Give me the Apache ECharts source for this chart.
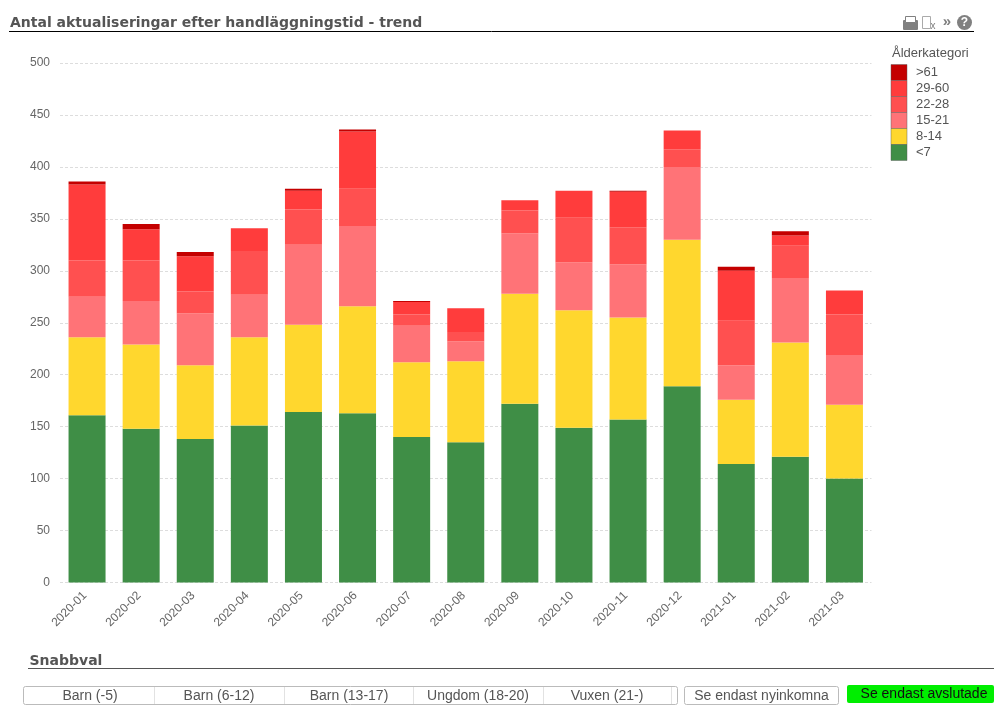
<!DOCTYPE html>
<html>
<head>
<meta charset="utf-8">
<style>html,body{margin:0;padding:0;background:#fff}#c{width:994px;height:711px}</style>
<script src="https://cdn.jsdelivr.net/npm/echarts@6/dist/echarts.min.js"></script>
</head>
<body>
<div id="c"></div>
<script>
const categories = ['2020-01','2020-02','2020-03','2020-04','2020-05','2020-06','2020-07','2020-08','2020-09','2020-10','2020-11','2020-12','2021-01','2021-02','2021-03'];
const under7   = [161,148,138,151,164,163,140,135,172,149,157,189,114,121,100];
const d8to14   = [75,81,71,85,84,103,72,78,106,113,98,141,62,110,71];
const d15to21  = [39,42,50,41,77,77,35,19,58,46,51,70,33,62,48];
const d22to28  = [35,39,21,42,34,36,11,9,22,43,36,17,43,31,39];
const d29to60  = [73,30,34,22,18,55,12,23,10,26,34,18,48,10,23];
const over61   = [3,5,4,null,2,2,1,null,null,null,1,null,4,4,null];
const yTicks = {min:0,max:500,interval:50};
const legendTitle = 'Ålderkategori';
const chartTitle = 'Antal aktualiseringar efter handläggningstid - trend';
const quickTitle = 'Snabbval';
const groupButtons = ['Barn (-5)','Barn (6-12)','Barn (13-17)','Ungdom (18-20)','Vuxen (21-)'];
const newButton = 'Se endast nyinkomna';
const doneButton = 'Se endast avslutade';

const seriesDefs = [
  ['<7', under7, '#3F8E46'],
  ['8-14', d8to14, '#FFD72E'],
  ['15-21', d15to21, '#FF7377'],
  ['22-28', d22to28, '#FF5050'],
  ['29-60', d29to60, '#FF3C3C'],
  ['>61', over61, '#C40000']
];
const FONT = '"Liberation Sans", Arial, sans-serif';
const TITLE_FONT = '"DejaVu Sans", Verdana, sans-serif';

function line(x1,y1,x2,y2,stroke,w){return {type:'line',silent:true,shape:{x1,y1,x2,y2},style:{stroke,lineWidth:w||1}};}
function txt(x,y,text,o){return {type:'text',silent:true,x,y,style:Object.assign({text,font:'14px '+FONT,fill:'#555',align:'center',verticalAlign:'middle'},o||{})};}

const dividers=[154.5,284.5,413.5,543.5,671.5];
const labelsX=[90,219,349,478,607];
const graphics=[
  txt(10,23,chartTitle,{font:'bold 14px '+TITLE_FONT,fill:'#555',align:'left'}),
  line(9,31.5,974,31.5,'#000'),
  txt(892,53,legendTitle,{font:'13px '+FONT,fill:'#555',align:'left'}),
  // toolbar icons
  {type:'rect',silent:true,shape:{x:903,y:20,width:15,height:10,r:1},style:{fill:'#808080'}},
  {type:'rect',silent:true,shape:{x:905.5,y:16.5,width:10,height:6},style:{fill:'#fff',stroke:'#808080'}},
  {type:'rect',silent:true,shape:{x:922.5,y:16.5,width:8,height:12},style:{fill:'#fff',stroke:'#aaa'}},
  txt(933,26,'x',{font:'10px '+FONT,fill:'#808080'}),
  txt(947,22,'»',{font:'bold 15px '+FONT,fill:'#808080'}),
  {type:'circle',silent:true,shape:{cx:964.5,cy:22.5,r:7.5},style:{fill:'#808080'}},
  txt(964.5,23,'?',{font:'bold 12px '+FONT,fill:'#fff'}),
  // quick select
  txt(29.5,661,quickTitle,{font:'bold 14px '+TITLE_FONT,fill:'#555',align:'left'}),
  line(28,668.5,994,668.5,'#555'),
  {type:'rect',silent:true,shape:{x:23.5,y:686.5,width:654,height:18,r:2},style:{fill:'#fff',stroke:'#bbb'}},
  ...dividers.map(x=>line(x,687,x,704,'#e2e2e2')),
  ...groupButtons.map((t,i)=>txt(labelsX[i],696,t)),
  {type:'rect',silent:true,shape:{x:684.5,y:686.5,width:154,height:18,r:2},style:{fill:'#fff',stroke:'#bbb'}},
  txt(761.5,696,newButton),
  {type:'rect',silent:true,shape:{x:847,y:685,width:147,height:18,r:2},style:{fill:'#00EE00'}},
  txt(924,694,doneButton,{fill:'#111'})
];

const chart = echarts.init(document.getElementById('c'),null,{renderer:'canvas'});
chart.setOption({
  animation:false,
  backgroundColor:'#fff',
  grid:{left:60,right:122.5,top:63,bottom:128.5,containLabel:false},
  legend:{
    orient:'vertical',left:890.5,top:64,itemWidth:16,itemHeight:16,itemGap:-1,
    icon:'rect',
    selectedMode:false,
    data:seriesDefs.map(s=>s[0]).reverse(),
    itemStyle:{borderColor:'rgba(90,90,90,0.45)',borderWidth:1},
    textStyle:{color:'#555',fontFamily:FONT,fontSize:13,lineHeight:16,height:16,padding:[0,0,0,4]},
    padding:0
  },
  xAxis:{
    type:'category',data:categories,
    axisTick:{show:false},
    axisLine:{show:false},
    axisLabel:{rotate:45,color:'#666',fontFamily:FONT,fontSize:12,margin:9,interval:0,padding:[0,3,0,0]}
  },
  yAxis:{
    type:'value',min:yTicks.min,max:yTicks.max,interval:yTicks.interval,
    axisLine:{show:false},axisTick:{show:false},
    axisLabel:{color:'#666',fontFamily:FONT,fontSize:12,margin:10,padding:[2,0,0,0]},
    splitLine:{show:true,lineStyle:{color:'#ddd',type:[3,2],width:1}}
  },
  series:seriesDefs.map(([name,data,color])=>({
    name,type:'bar',stack:'total',data,barWidth:37,
    itemStyle:{color,borderWidth:0},
    emphasis:{disabled:true}
  })),
  graphic:graphics
});
</script>
</body>
</html>
